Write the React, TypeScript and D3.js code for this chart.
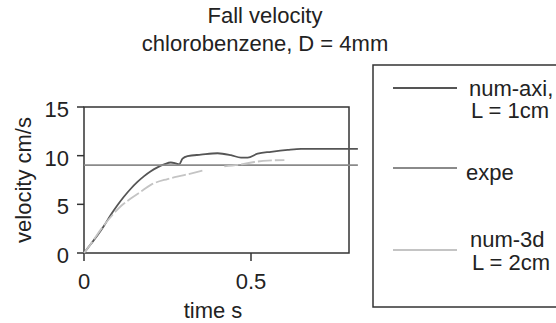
import React from "react";
import * as d3 from "d3";

const titleLines = ["Fall velocity", "chlorobenzene, D = 4mm"];
const xTicks = [0, 0.5];
const yTicks = [0, 5, 10, 15];

const axiT = [0, 0.02, 0.04, 0.06, 0.08, 0.1, 0.12, 0.14, 0.16, 0.18, 0.2, 0.22, 0.24, 0.26, 0.275, 0.285, 0.295, 0.31, 0.35, 0.4, 0.44, 0.47, 0.49, 0.52, 0.56, 0.61, 0.65, 0.82];
const axiV = [0, 0.9, 1.8, 2.8, 3.9, 4.9, 5.8, 6.6, 7.3, 7.9, 8.4, 8.8, 9.1, 9.3, 9.2, 9.1, 9.7, 9.95, 10.1, 10.25, 10.05, 9.8, 9.8, 10.2, 10.4, 10.6, 10.7, 10.7];

const expeT = [0, 0.82];
const expeV = [9.03, 9.03];

const num3dT = [0, 0.02, 0.05, 0.08, 0.11, 0.14, 0.17, 0.2, 0.25, 0.3, 0.36, 0.39, 0.42, 0.47, 0.51, 0.55, 0.6];
const num3dV = [0, 0.9, 2.4, 3.7, 4.8, 5.6, 6.3, 7.0, 7.6, 8.0, 8.5, null, 8.9, 9.1, 9.35, 9.5, 9.55];

const legendLabels = [["num-axi,", "L = 1cm"], ["expe"], ["num-3d", "L = 2cm"]];
const colors = ["#555555", "#8a8a8a", "#c4c4c4"];

export default function App() {
  const left = 84, right = 349, top = 107, bottom = 253;
  const x = d3.scaleLinear().domain([0, 0.5]).range([left, 251]);
  const y = d3.scaleLinear().domain([0, 15]).range([bottom, top]);
  const font = "Liberation Sans, Arial, sans-serif";
  const txt = "#222";
  const fs = 22;

  const mk = (ts: number[], vs: (number | null)[]) =>
    d3
      .line<number>()
      .defined((i) => vs[i] !== null)
      .x((i) => x(ts[i]))
      .y((i) => y(vs[i] as number))
      .curve(d3.curveMonotoneX)(ts.map((_, i) => i)) || "";

  const series = [
    { d: mk(axiT, axiV), color: colors[0], dash: undefined },
    { d: mk(expeT, expeV), color: colors[1], dash: undefined },
    { d: mk(num3dT, num3dV), color: colors[2], dash: "14,3" },
  ];

  const legendY = [88, 168, 250];
  const legendText = [[96, 118], [180], [247, 270]];
  const legendX = [[469, 471], [466], [470, 472]];

  return (
    <svg
      width={556}
      height={323}
      style={{ position: "absolute", left: 0, top: 0, background: "#fff" }}
      fontFamily={font}
    >
      {titleLines.map((t, i) => (
        <text key={t} x={265} y={23 + i * 28} textAnchor="middle" fontSize={fs} fill={txt}>
          {t}
        </text>
      ))}
      <rect x={left} y={top} width={right - left} height={bottom - top} fill="none" stroke="#333" strokeWidth={1.5} />
      {yTicks.map((v) => (
        <g key={v}>
          <line x1={left - 7} x2={left} y1={y(v)} y2={y(v)} stroke="#333" strokeWidth={1.5} />
          <text x={left - 15} y={y(v) + 10} textAnchor="end" fontSize={fs} fill={txt}>
            {v}
          </text>
        </g>
      ))}
      {xTicks.map((v) => (
        <g key={v}>
          <line x1={x(v)} x2={x(v)} y1={bottom} y2={bottom + 8} stroke="#333" strokeWidth={1.5} />
          <text x={x(v)} y={289} textAnchor="middle" fontSize={fs} fill={txt}>
            {d3.format("~g")(v)}
          </text>
        </g>
      ))}
      <text x={213} y={318} textAnchor="middle" fontSize={fs} fill={txt}>
        time s
      </text>
      <text
        transform={`translate(31,180) rotate(-90)`}
        textAnchor="middle"
        fontSize={fs}
        fill={txt}
      >
        velocity cm/s
      </text>
      {series.map((s, i) => (
        <path key={i} d={s.d} fill="none" stroke={s.color} strokeWidth={1.8} strokeDasharray={s.dash} />
      ))}
      <rect x={373} y={65} width={200} height={242} fill="none" stroke="#333" strokeWidth={1.5} />
      {legendLabels.map((lab, i) => (
        <g key={i}>
          <line x1={393} x2={457} y1={legendY[i]} y2={legendY[i]} stroke={colors[i]} strokeWidth={2} />
          {lab.map((l, j) => (
            <text key={j} x={legendX[i][j]} y={legendText[i][j]} fontSize={fs} fill={txt}>
              {l}
            </text>
          ))}
        </g>
      ))}
    </svg>
  );
}
